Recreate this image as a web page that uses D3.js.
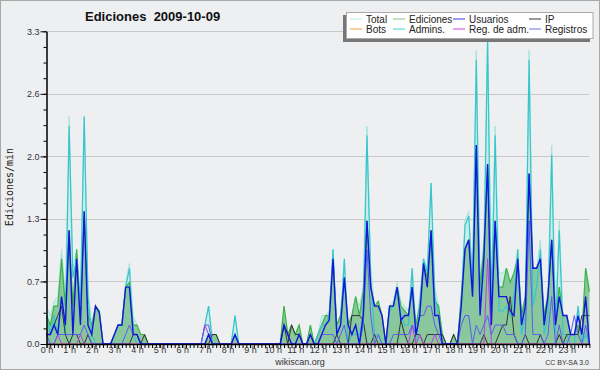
<!DOCTYPE html>
<html>
<head>
<meta charset="utf-8">
<script src="https://cdn.jsdelivr.net/npm/d3@7"></script>
<style>
body { margin: 0; background: #eeeff1; }
svg { display: block; font-family: "Liberation Sans", Arial, sans-serif; }
</style>
</head>
<body>
<div id="chart"></div>
<script>
// 10 minute bins, 0h00 .. 24h00 (145 points), values in edits/min
var hourLabels = ["0 h","1 h","2 h","3 h","4 h","5 h","6 h","7 h","8 h","9 h","10 h","11 h",
    "12 h","13 h","14 h","15 h","16 h","17 h","18 h","19 h","20 h","21 h","22 h","23 h"];
var yTicks = [0, 0.66, 1.32, 1.98, 2.64, 3.3];

var total = [
    .4,.3,.45,.5,1.0,.5,     2.4,.8,1.0,.5,2.4,.6,    .2,.4,.35,0,0,0,      .1,.2,.2,.65,.85,.3,
    .2,.1,.1,0,0,0,          0,0,0,0,0,0,             0,0,0,0,0,0,          .2,.4,.1,.1,0,0,
    0,0,.3,0,0,0,            0,0,0,0,0,0,             0,0,0,.4,.1,.2,       .1,.2,0,0,.2,0,
    .1,.3,.3,.35,1.0,.2,     .3,.9,.2,.3,.5,.4,       .6,2.3,.8,.4,.45,.3,  0,.4,.45,.65,.45,.4,
    .35,.8,.2,.5,.9,.8,      1.7,.6,.4,.1,0,0,        .1,0,.5,1.3,1.4,.7,   3.1,.7,1.1,3.3,.6,2.3,
    .75,.75,.8,.65,.75,1.0,  .35,.5,3.1,.8,.8,1.1,    .3,.6,2.1,.3,1.3,.3,  .3,.1,.1,.4,.1,.8,
    .6];
var ediciones = [
    .3,.2,.4,.4,.9,.4,       1.2,.4,1.0,.3,1.4,.3,    .2,.4,.35,0,0,0,      .1,.2,.2,.6,.65,.2,
    .2,.1,.1,0,0,0,          0,0,0,0,0,0,             0,0,0,0,0,0,          0,.1,.1,.1,0,0,
    0,0,.1,0,0,0,            0,0,0,0,0,0,             0,0,0,.4,.1,.2,       .1,.2,0,0,.2,0,
    .1,.2,.3,.3,.9,.2,       .3,.7,.2,.3,.5,.3,       .55,1.3,.6,.4,.45,.3, 0,.4,.4,.6,.4,.35,
    .3,.6,.2,.4,.85,.7,      1.2,.45,.4,.1,0,0,       .1,0,.5,1.0,1.1,.6,   2.1,.6,1.0,1.9,.6,1.3,
    .6,.6,.8,.65,.75,.9,     .3,.5,1.8,.8,.8,.9,      .3,.5,1.1,.3,.6,.3,   .3,.1,.1,.2,.1,.8,
    .55];
var usuarios = [
    .1,.1,.2,.1,.5,.2,       1.2,.1,.9,.2,1.4,.2,     .1,.4,.33,0,0,0,      .1,.2,.2,.6,.6,.1,
    .1,0,0,0,0,0,            0,0,0,0,0,0,             0,0,0,0,0,0,          0,.1,0,0,0,0,
    0,0,.1,0,0,0,            0,0,0,0,0,0,             0,0,0,.2,.1,0,        0,.1,0,0,.1,0,
    0,.1,.2,.25,.9,.1,       .2,.7,.2,.1,.2,0,        .3,1.3,.6,.4,.4,.3,   0,.4,.4,.6,.25,.3,
    .3,.6,.1,.3,.85,.6,      1.2,.3,.3,0,0,0,         0,0,.4,1.0,1.1,.5,    2.1,.3,.9,1.9,.2,1.3,
    .5,.5,.5,.35,.3,.9,      .2,.4,1.8,.8,.8,.9,      .2,.5,1.1,.2,.5,.3,   .3,.1,.1,.3,.1,.5,
    0];
var ip = [
    .1,.1,.2,.3,.4,.1,       0,.1,.1,0,0,.1,          0,0,0,0,0,0,          0,0,0,0,0,.1,
    .1,0,.1,0,0,0,           0,0,0,0,0,0,             0,0,0,0,0,0,          0,0,.1,.1,0,0,
    0,0,0,0,0,0,             0,0,0,0,0,0,             0,0,0,.2,0,.2,        .1,.1,0,0,.1,0,
    0,0,0,0,0,.1,            0,0,0,.3,.3,.3,          .25,0,0,.1,0,0,       0,0,0,0,.25,.1,
    0,0,.1,.1,0,.1,          .1,.1,.1,.1,0,0,         .1,0,0,0,0,0,         0,0,.1,0,0,0,
    .1,.2,.2,.5,.1,0,        0,.1,0,0,0,.1,           0,0,0,0,.1,0,         .1,.1,.1,.1,.3,.3,
    .3];
var bots = [
    0,0,0,0,0,0,  0,0,0,0,0,0,  0,0,0,0,0,0,  0,0,0,0,0,0,
    0,0,0,0,0,0,  0,0,0,0,0,0,  0,0,0,0,0,0,  0,0,0,0,0,0,
    0,0,0,0,0,0,  0,0,0,0,0,0,  0,0,0,0,0,0,  0,0,0,0,0,0,
    0,0,0,0,0,0,  0,0,0,0,0,0,  0,0,0,0,0,0,  0,0,0,0,0,0,
    0,0,0,0,0,0,  0,0,0,0,0,0,  0,0,0,0,0,0,  0,0,0,0,0,0,
    0,0,0,0,0,0,  0,0,0,0,0,0,  0,0,0,0,0,0,  0,0,0,0,0,0,
    0];
var admins = [
    .3,.1,.3,.1,.5,.1,       2.3,.7,.9,.4,2.4,.5,     .1,0,0,0,0,0,         .1,.2,.2,.6,.8,.1,
    0,0,0,0,0,0,             0,0,0,0,0,0,             0,0,0,0,0,0,          .2,.4,0,0,0,0,
    0,0,.3,0,0,0,            0,0,0,0,0,0,             0,0,0,0,0,0,          0,0,0,0,0,0,
    .1,.2,.2,.3,1.0,.1,      .2,.9,0,.1,.1,.1,        .3,2.2,.7,.1,.1,0,    0,.35,.4,.55,.3,.2,
    .2,.8,0,.4,.9,.75,       1.7,.5,.3,0,0,0,         0,0,.4,1.25,1.35,.6,  3.0,.4,.8,3.2,.3,2.2,
    .35,.35,.4,.3,.5,1.0,    .1,.3,3.0,.4,.6,1.0,     .1,.3,2.0,.1,1.2,.1,  .1,0,0,.4,0,.1,
    0];
var regAdm = [
    0,0,0,.1,0,0,  0,0,0,.1,0,0,  0,0,0,0,0,0,  0,0,0,0,0,0,
    0,0,0,0,0,0,   0,0,0,0,0,0,   0,0,0,0,0,0,  .2,.1,0,0,0,0,
    0,0,0,0,0,0,   0,0,0,0,0,0,   0,0,0,0,0,0,  0,0,0,0,0,0,
    0,0,0,0,0,0,   0,0,0,0,0,0,   0,0,0,0,0,0,  0,0,0,0,0,0,
    0,.2,0,.1,0,0, 0,.1,0,0,0,0,  0,0,0,0,0,0,  0,0,0,.9,0,0,
    0,0,0,0,0,0,   0,0,0,0,0,0,   0,0,0,0,0,0,  0,0,0,0,0,0,
    0];
var registros = [
    .1,0,0,.1,.1,.1,         .1,.1,.1,.1,.2,.1,       0,0,0,0,0,0,          0,0,0,.1,.2,.1,
    .1,0,0,0,0,0,            0,0,0,0,0,0,             0,0,0,0,0,0,          .2,.2,0,0,0,0,
    0,0,.1,0,0,0,            0,0,0,0,0,0,             0,0,0,0,0,0,          0,0,0,0,0,0,
    0,.1,.1,.1,.1,0,         .1,.2,0,0,0,0,           .2,1.0,.3,0,.1,0,     0,0,.1,.1,.1,.1,
    .1,.2,.1,.3,.3,.4,       .4,.2,.1,0,0,0,          0,0,.2,.3,.3,0,       .2,.1,.2,.3,.1,.2,
    .2,.2,.1,.1,.1,0,        0,.1,1.3,.1,.1,.1,       0,.1,.5,0,.2,0,       0,.1,.3,.1,0,.2,
    0];

var W = 600, H = 370;
var plotLeft = 46.5, plotRight = 589.4, plotTop = 31.3, plotBottom = 344;

var svg = d3.select("#chart")
    .append("svg")
    .attr("width", W)
    .attr("height", H);

// background + frame
svg.append("rect")
    .attr("x", 0.5).attr("y", 0.5)
    .attr("width", W - 1).attr("height", H - 1)
    .style("fill", "#eeeff1")
    .style("stroke", "#a8a8a8");

var x = d3.scaleLinear().domain([0, 144]).range([plotLeft, plotRight]);
var y = d3.scaleLinear().domain([0, 3.3]).range([plotBottom, plotTop]);

// grid lines
svg.append("g")
    .selectAll("line")
    .data(yTicks.slice(1))
    .enter()
    .append("line")
    .attr("x1", plotLeft).attr("x2", plotRight)
    .attr("y1", function (d) { return Math.round(y(d)) + 0.5; })
    .attr("y2", function (d) { return Math.round(y(d)) + 0.5; })
    .style("stroke", "#c8c8c8");

var area = d3.area()
    .x(function (d, i) { return x(i); })
    .y0(y(0))
    .y1(function (d) { return y(d); });
var line = d3.line()
    .x(function (d, i) { return x(i); })
    .y(function (d) { return y(d); });

// filled areas
svg.append("path").attr("d", area(total))
    .style("fill", "#c2ebe6").style("fill-opacity", 0.7);
svg.append("path").attr("d", area(ediciones))
    .style("fill", "#3aa046").style("fill-opacity", 0.47);

// lines
var series = [
    {v: total, c: "#a4e4dc", w: 1},
    {v: ediciones, c: "#3cb043", w: 1.2},
    {v: admins, c: "#34c6cc", w: 1.2},
    {v: bots, c: "#f29a3a", w: 1},
    {v: ip, c: "#333333", w: 1},
    {v: regAdm, c: "#c83ae0", w: 1},
    {v: registros, c: "#5c5cf2", w: 1},
    {v: usuarios, c: "#1414dc", w: 1.4}
];
series.forEach(function (s) {
    svg.append("path")
        .attr("d", line(s.v))
        .style("fill", "none")
        .style("stroke", s.c)
        .style("stroke-width", s.w)
        .style("stroke-linejoin", "miter");
});

// Y axis
var yMinor = d3.range(0, 21).map(function (k) { return k * 0.165; });
svg.append("g")
    .attr("transform", "translate(" + plotLeft + ",0)")
    .call(d3.axisLeft(y).tickValues(yMinor).tickSize(3).tickFormat("").tickSizeOuter(0));
var yAxis = svg.append("g")
    .attr("transform", "translate(" + plotLeft + ",0)")
    .call(d3.axisLeft(y).tickValues(yTicks).tickSize(6).tickPadding(1)
        .tickFormat(d3.format(".1f")).tickSizeOuter(0));
yAxis.selectAll("text")
    .style("font-family", "Liberation Sans, Arial, sans-serif")
    .style("font-size", "9px")
    .style("fill", "#333");

// X axis
svg.append("g")
    .attr("transform", "translate(0," + plotBottom + ")")
    .call(d3.axisBottom(x).tickValues(d3.range(0, 145)).tickSize(4).tickFormat("").tickSizeOuter(0))
    .select(".domain").style("stroke-width", 1.5);
var xAxis = svg.append("g")
    .attr("transform", "translate(0," + plotBottom + ")")
    .call(d3.axisBottom(x).tickValues(d3.range(0, 144, 6)).tickSize(4).tickPadding(-1)
        .tickFormat(function (d) { return hourLabels[d / 6]; }).tickSizeOuter(0));
xAxis.select(".domain").remove();
xAxis.selectAll("text")
    .style("font-family", "Liberation Sans, Arial, sans-serif")
    .style("font-size", "9px")
    .style("fill", "#333");

// Title
svg.append("text")
    .attr("x", 85).attr("y", 20.7)
    .attr("xml:space", "preserve")
    .style("font-weight", "bold")
    .style("font-size", "13px")
    .style("fill", "#111")
    .text("Ediciones  2009-10-09");

// Y label
svg.append("text")
    .attr("transform", "translate(13,187) rotate(-90)")
    .style("text-anchor", "middle")
    .style("font-family", "DejaVu Sans Mono, monospace")
    .style("font-size", "10px")
    .style("fill", "#222")
    .text("Ediciones/min");

svg.append("text")
    .attr("x", 300).attr("y", 365)
    .style("text-anchor", "middle")
    .style("font-size", "9px")
    .style("fill", "#333")
    .text("wikiscan.org");

svg.append("text")
    .attr("x", 589).attr("y", 364.5)
    .style("text-anchor", "end")
    .style("font-size", "7px")
    .style("fill", "#333")
    .text("CC BY-SA 3.0");

// Legend
var legendNames = ["Total", "Ediciones", "Usuarios", "IP", "Bots", "Admins.", "Reg. de adm.", "Registros"];
var legendColors = ["#b4ebe4", "#7cc87c", "#3838e0", "#333333", "#f29a3a", "#40c8d8", "#cc44e4", "#7070f0"];
var colX = [350, 393, 453, 529];

svg.append("rect")
    .attr("x", 343).attr("y", 15)
    .attr("width", 247).attr("height", 27)
    .style("fill", "#777");
svg.append("rect")
    .attr("x", 346.5).attr("y", 12.5)
    .attr("width", 246.5).attr("height", 26)
    .style("fill", "#fff")
    .style("stroke", "#aaa");

var leg = svg.append("g").selectAll("g")
    .data(legendNames)
    .enter()
    .append("g")
    .attr("transform", function (d, i) {
        return "translate(" + colX[i % 4] + "," + (i < 4 ? 19 : 29) + ")";
    });
leg.append("line")
    .attr("x1", 0).attr("x2", 12)
    .style("stroke", function (d, i) { return legendColors[i]; });
leg.append("text")
    .attr("x", 16).attr("y", 3.5)
    .style("font-size", "10px")
    .style("fill", "#222")
    .text(function (d) { return d; });
</script>
</body>
</html>
